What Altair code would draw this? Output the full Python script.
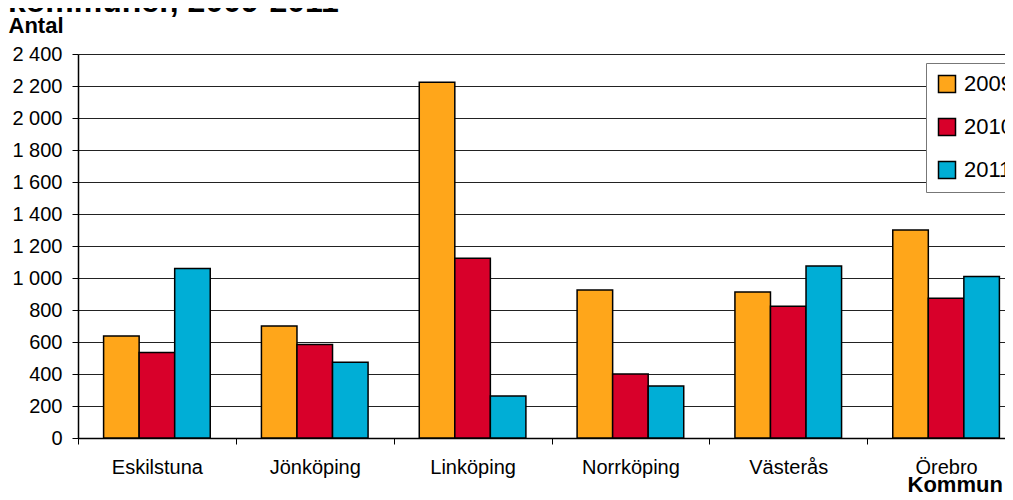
import altair as alt
import pandas as pd

kommuner = ["Eskilstuna", "Jönköping", "Linköping", "Norrköping", "Västerås", "Örebro"]
years = ["2009", "2010", "2011"]
v2009 = [637, 700, 2223, 925, 912, 1300]
v2010 = [535, 585, 1123, 400, 823, 873]
v2011 = [1060, 473, 262, 325, 1075, 1010]
colors = ["#FFA61A", "#D8002A", "#00AED6"]
y_ticks = list(range(0, 2401, 200))
title_lines = ["kommuner, 2009-2011"]

rows = []
for yr, vals in zip(years, [v2009, v2010, v2011]):
    for k, v in zip(kommuner, vals):
        rows.append({"kommun": k, "year": yr, "value": v})
df = pd.DataFrame(rows)

FONT = "Liberation Sans"

bars = alt.Chart(df).mark_bar(stroke="black", strokeWidth=1.5).encode(
    x=alt.X(
        "kommun:N",
        sort=kommuner,
        scale=alt.Scale(paddingInner=0, paddingOuter=0),
        axis=alt.Axis(
            title="Kommun",
            titleFont=FONT,
            titleFontSize=22,
            titleFontWeight="bold",
            titleColor="black",
            titleX=829,
            titleY=53,
            titleAlign="left",
            titleBaseline="alphabetic",
            labelAngle=0,
            labelFont=FONT,
            labelFontSize=20,
            labelColor="black",
            labelPadding=13,
            tickBand="extent",
            tickSize=6,
            tickColor="black",
            domainColor="black",
            domainWidth=1.5,
            grid=False,
        ),
    ),
    xOffset=alt.XOffset("year:N", sort=years, scale=alt.Scale(paddingInner=0, paddingOuter=0.72)),
    y=alt.Y(
        "value:Q",
        scale=alt.Scale(domain=[0, 2400], nice=False),
        axis=alt.Axis(
            title="Antal",
            titleFont=FONT,
            titleFontSize=22,
            titleFontWeight="bold",
            titleColor="black",
            titleAngle=0,
            titleX=-70,
            titleY=-22,
            titleAlign="left",
            titleBaseline="alphabetic",
            values=y_ticks,
            labelExpr="replace(format(datum.value, ','), ',', ' ')",
            labelFont=FONT,
            labelFontSize=20,
            labelColor="black",
            labelPadding=10,
            tickSize=6,
            tickColor="black",
            domainColor="black",
            domainWidth=1.5,
            grid=True,
            gridColor="#222222",
            gridWidth=1,
            gridOpacity=1,
        ),
    ),
    color=alt.Color(
        "year:N",
        sort=years,
        scale=alt.Scale(domain=years, range=colors),
        legend=alt.Legend(
            title=None,
            orient="none",
            legendX=848,
            legendY=9,
            symbolType="square",
            symbolSize=289,
            symbolStrokeColor="black",
            symbolStrokeWidth=1.5,
            symbolOpacity=1,
            labelFont=FONT,
            labelFontSize=22,
            labelColor="black",
            labelOffset=6,
            rowPadding=19,
            padding=10,
            fillColor="white",
            strokeColor="#777777",
        ),
    ),
)

title_df = pd.DataFrame({"t": title_lines})
title = alt.Chart(title_df).mark_text(
    font=FONT, fontSize=32, fontWeight="bold", align="left", baseline="alphabetic", color="black"
).encode(text="t:N", x=alt.value(-70), y=alt.value(-42))

chart = alt.layer(bars, title).properties(
    width=947,
    height=384,
    autosize=alt.AutoSizeParams(type="none"),
    padding={"left": 70, "top": 46, "right": -20, "bottom": 54},
).configure_view(stroke=None)

chart.save("out.html", embed_options={"renderer": "svg", "actions": False})
